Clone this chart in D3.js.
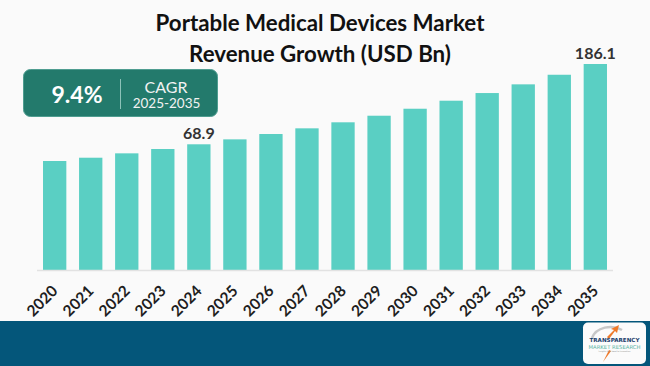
<!DOCTYPE html>
<html>
<head>
<meta charset="utf-8">
<script src="https://cdn.jsdelivr.net/npm/d3@7"></script>
<style>
  html, body { margin: 0; padding: 0; background: #fafafa; }
  svg { display: block; }
</style>
</head>
<body>
<svg id="chart" width="650" height="366"></svg>
<script>
// ---- data ----
const years = ["2020","2021","2022","2023","2024","2025","2026","2027","2028","2029","2030","2031","2032","2033","2034","2035"];
const revenue = [44.5, 49.3, 55.7, 62.0, 68.9, 76.1, 83.9, 92.2, 101.0, 110.6, 120.8, 132.5, 143.7, 156.4, 170.4, 186.1];
const labelledYears = ["2024", "2035"];
const titleLines = ["Portable Medical Devices Market", "Revenue Growth (USD Bn)"];
const cagrValue = "9.4%";
const cagrLabel = "CAGR";
const cagrPeriod = "2025-2035";
const yFloor = -114.6; // visual baseline value of the infographic's bars

const svg = d3.select("#chart");
const W = 650, H = 366;

svg.append("rect").attr("width", W).attr("height", H).attr("fill", "#fafafa");

// ---- scales ----
const x = d3.scaleBand().domain(years).range([37, 613]).paddingInner(0.353).paddingOuter(0.167);
const y = d3.scaleLinear().domain([yFloor, d3.max(revenue)]).range([270, 64]);

// ---- title ----
const title = svg.append("g").attr("font-family", "Lato, 'Open Sans', sans-serif")
  .attr("font-weight", "bold").attr("fill", "#111").attr("text-anchor", "middle");
title.selectAll("text").data(titleLines).join("text")
  .attr("x", 320).attr("y", (d, i) => 30.5 + i * 31.5)
  .attr("font-size", 22.3).text(d => d);

// ---- bars ----
svg.append("g").selectAll("rect").data(years).join("rect")
  .attr("x", d => x(d)).attr("width", x.bandwidth())
  .attr("y", (d, i) => y(revenue[i]))
  .attr("height", (d, i) => y.range()[0] - y(revenue[i]))
  .attr("fill", "#5acfc3");

// axis line
svg.append("line").attr("x1", 37).attr("x2", 613).attr("y1", 270.5).attr("y2", 270.5)
  .attr("stroke", "#e2e2e2").attr("stroke-width", 1.5);

// x axis labels
const xAxis = svg.append("g").attr("transform", "translate(0,270)")
  .call(d3.axisBottom(x).tickSize(0).tickPadding(0));
xAxis.select(".domain").remove();
xAxis.selectAll("text")
  .attr("font-family", "Lato, 'Open Sans', sans-serif").attr("font-size", 15.5)
  .attr("font-weight", "bold").attr("fill", "#1e1e1e")
  .attr("text-anchor", "end").attr("dy", 0)
  .attr("transform", "translate(4,22) rotate(-45)");

// value labels
svg.append("g").selectAll("text").data(labelledYears).join("text")
  .attr("x", d => x(d) + x.bandwidth() / 2)
  .attr("y", d => y(revenue[years.indexOf(d)]) - 5)
  .attr("text-anchor", "middle")
  .attr("font-family", "Lato, 'Open Sans', sans-serif").attr("font-size", 16)
  .attr("font-weight", "bold").attr("fill", "#333")
  .text(d => revenue[years.indexOf(d)].toFixed(1));

// ---- CAGR box ----
const cg = svg.append("g");
cg.append("rect").attr("x", 23.5).attr("y", 69.5).attr("width", 194).attr("height", 47)
  .attr("rx", 7).attr("fill", "#237a6c").attr("stroke", "#4f9d90").attr("stroke-width", 1);
cg.append("text").attr("x", 77).attr("y", 102.5).attr("text-anchor", "middle")
  .attr("font-family", "Lato, 'Open Sans', sans-serif").attr("font-weight", "bold")
  .attr("font-size", 23).attr("fill", "#fff").text(cagrValue);
cg.append("line").attr("x1", 120.5).attr("x2", 120.5).attr("y1", 79).attr("y2", 109)
  .attr("stroke", "#8cc2b8").attr("stroke-width", 1);
cg.append("text").attr("x", 166).attr("y", 93.3).attr("text-anchor", "middle")
  .attr("font-family", "Lato, 'Open Sans', sans-serif").attr("font-size", 16)
  .attr("fill", "#f2f2f2").text(cagrLabel);
cg.append("text").attr("x", 166.5).attr("y", 107.8).attr("text-anchor", "middle")
  .attr("font-family", "Lato, 'Open Sans', sans-serif").attr("font-size", 13.5)
  .attr("fill", "#f2f2f2").text(cagrPeriod);

// ---- footer ----
svg.append("rect").attr("x", 0).attr("y", 321).attr("width", W).attr("height", H - 321).attr("fill", "#04567a");

// logo
const lg = svg.append("g");
lg.append("rect").attr("x", 583).attr("y", 322.5).attr("width", 63).attr("height", 41.5)
  .attr("rx", 5).attr("fill", "#fbfbfb");
lg.append("path").attr("d", "M592,338 C596,327 612,324 622,330")
  .attr("fill", "none").attr("stroke", "#c8c8c8").attr("stroke-width", 2.5);
lg.append("path").attr("d", "M603,362 L609,350 L611,351 Z").attr("fill", "#f07a2a");
lg.append("path").attr("d", "M607,337 L614,330 L611,329 L619,325 L617,333 L615,331 L609,339 Z").attr("fill", "#f07a2a");
lg.append("text").attr("x", 614.5).attr("y", 342).attr("text-anchor", "middle")
  .attr("font-family", "'DejaVu Sans', sans-serif").attr("font-weight", "bold")
  .attr("font-size", 5.6).attr("fill", "#1a3d6b").text("TRANSPARENCY");
lg.append("text").attr("x", 614.5).attr("y", 348.5).attr("text-anchor", "middle")
  .attr("font-family", "'DejaVu Sans', sans-serif")
  .attr("font-size", 5.3).attr("fill", "#5ab5a4").text("MARKET RESEARCH");
lg.append("text").attr("x", 614.5).attr("y", 351.5).attr("text-anchor", "middle")
  .attr("font-family", "'DejaVu Sans', sans-serif")
  .attr("font-size", 2).attr("fill", "#8a8a8a").text("Insights that Lead to Innovation");
</script>
</body>
</html>
